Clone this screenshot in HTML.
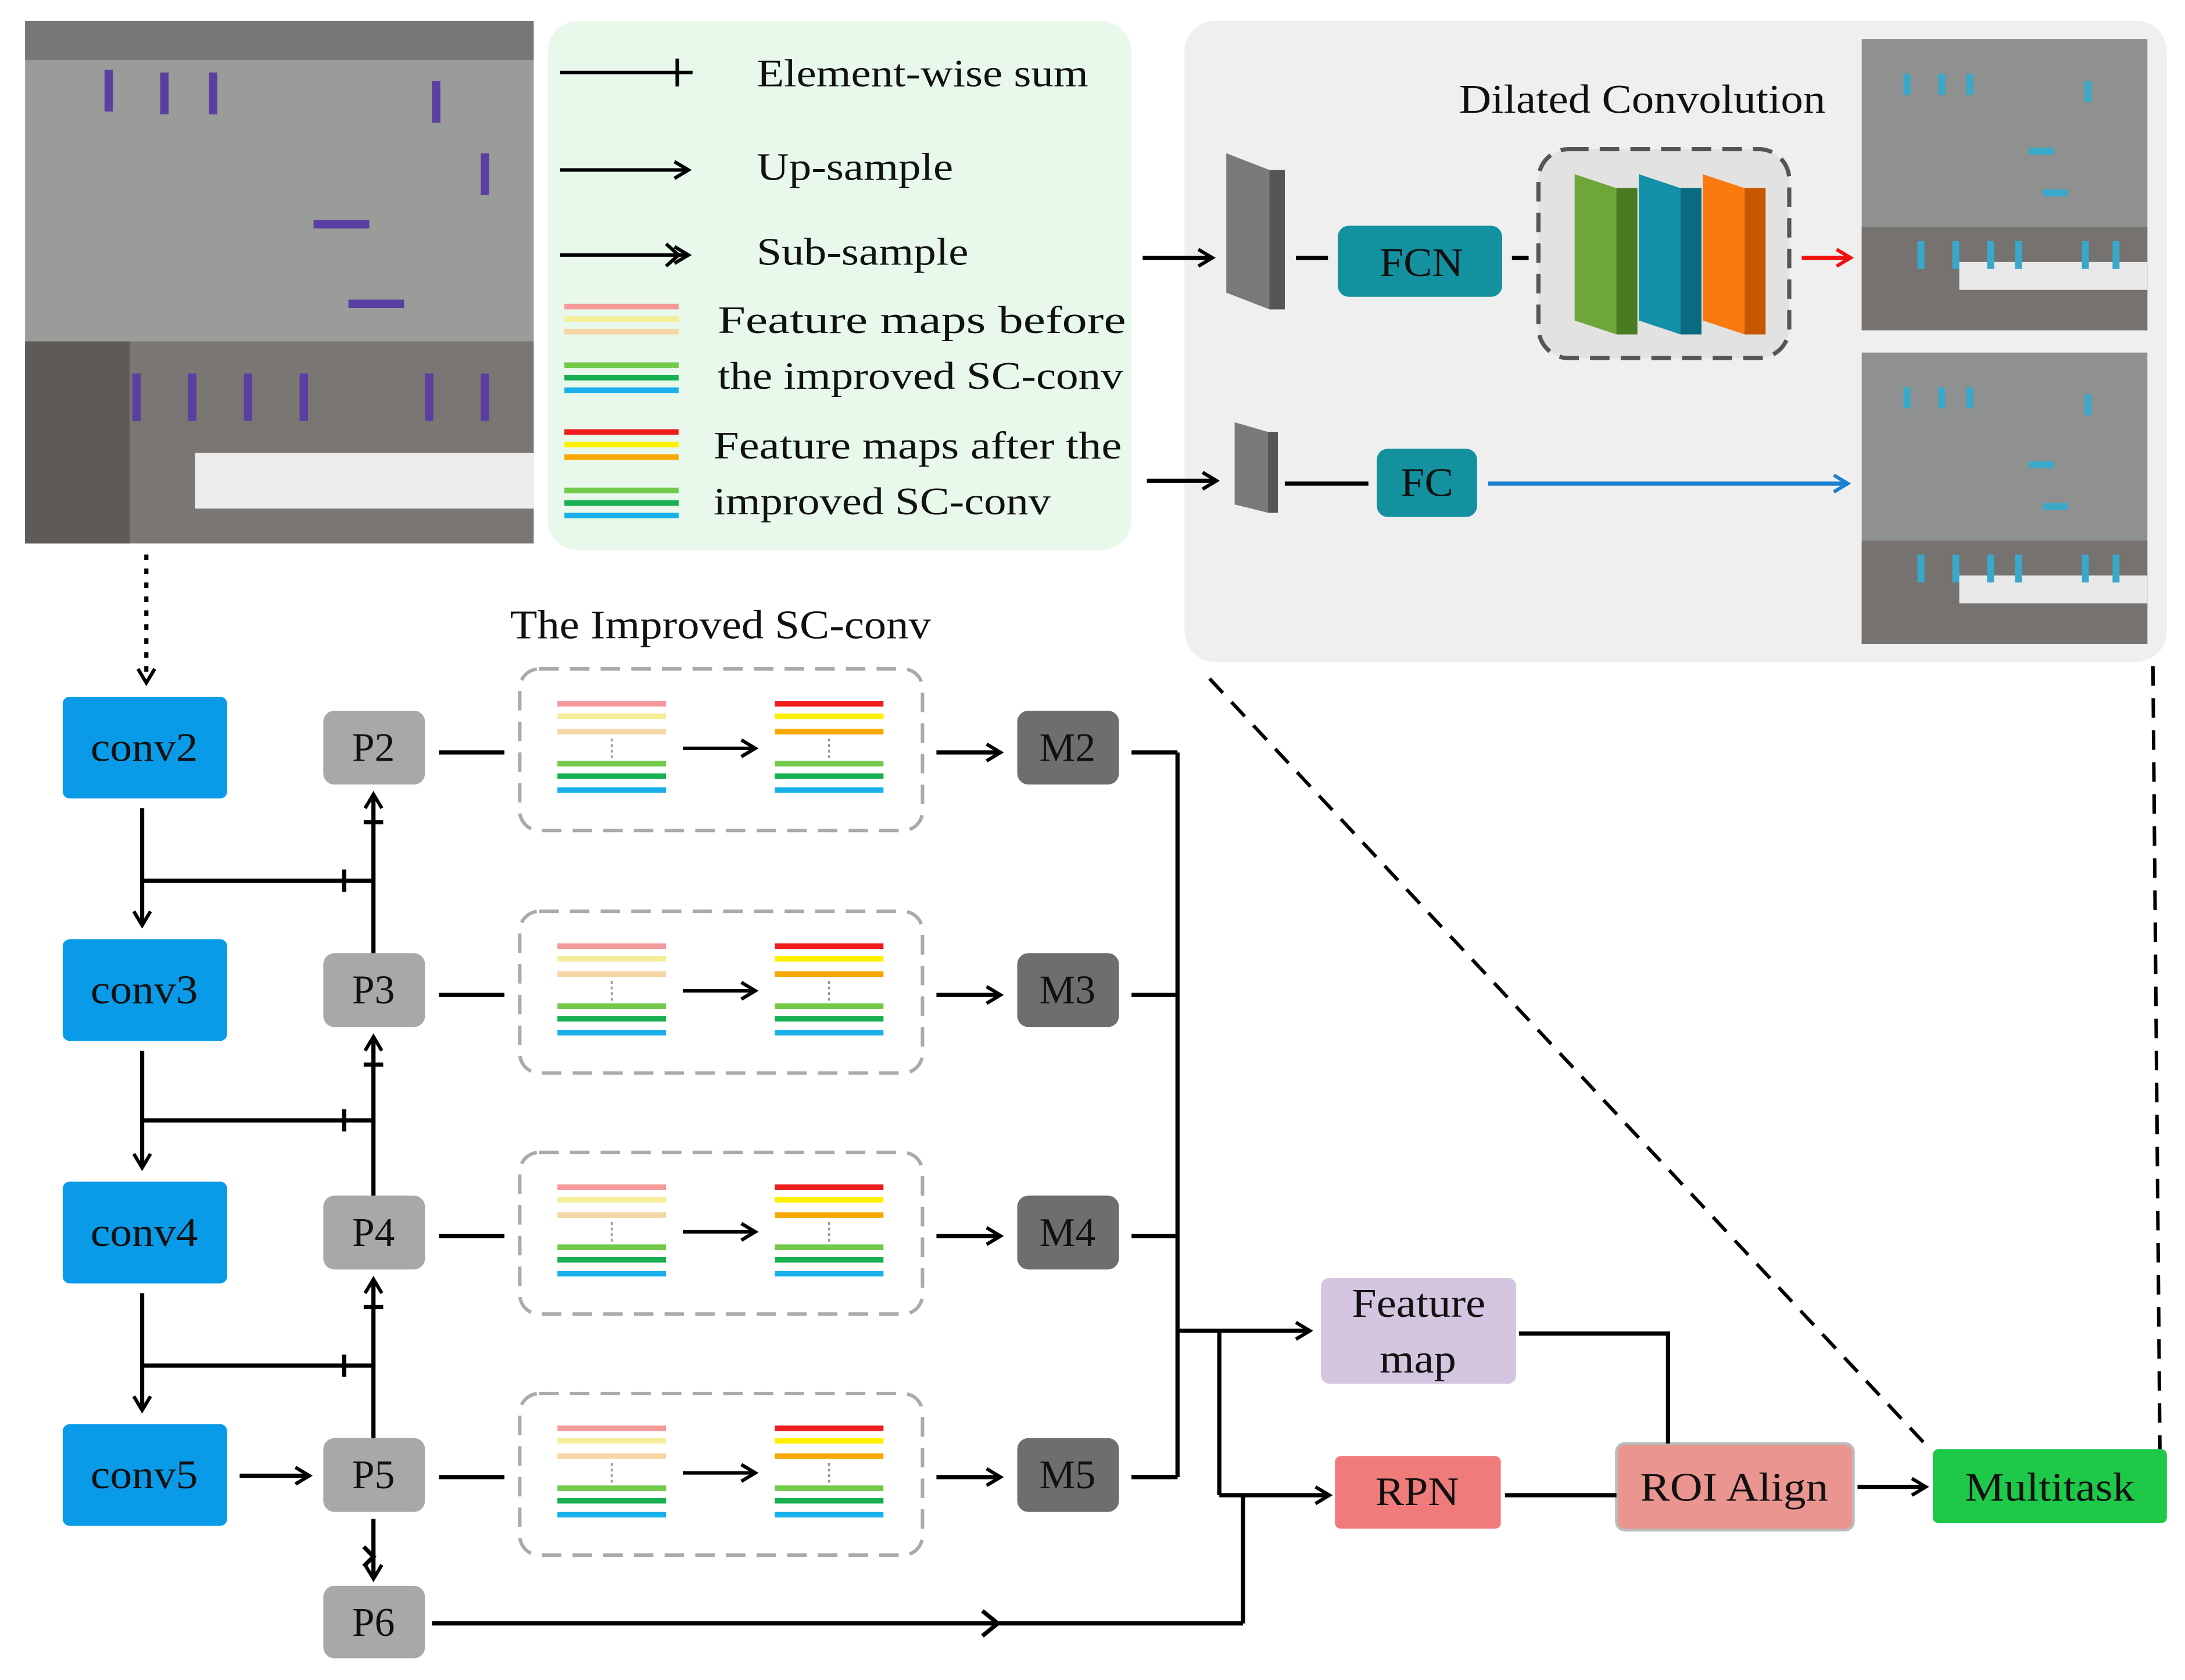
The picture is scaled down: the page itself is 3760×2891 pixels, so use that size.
<!DOCTYPE html>
<html><head><meta charset="utf-8"><style>html,body{margin:0;padding:0;background:#fff}svg{display:block}text{font-family:"Liberation Serif",serif}</style></head><body>
<svg width="3760" height="2891" viewBox="0 0 1568 1205.6" preserveAspectRatio="none" xmlns="http://www.w3.org/2000/svg">
<defs>
<marker id="ah" markerWidth="14" markerHeight="14" refX="11" refY="7" orient="auto" markerUnits="userSpaceOnUse"><path d="M1,1 L11,7 L1,13" fill="none" stroke="#000" stroke-width="2.5"/></marker>
<marker id="ahr" markerWidth="14" markerHeight="14" refX="11" refY="7" orient="auto" markerUnits="userSpaceOnUse"><path d="M1,1 L11,7 L1,13" fill="none" stroke="#f01010" stroke-width="2.5"/></marker>
<marker id="ahb" markerWidth="14" markerHeight="14" refX="11" refY="7" orient="auto" markerUnits="userSpaceOnUse"><path d="M1,1 L11,7 L1,13" fill="none" stroke="#1a7fd0" stroke-width="2.5"/></marker>
<g id="photo">
<rect width="205" height="209" fill="#8e9190"/>
<rect y="135" width="205" height="74" fill="#75726f"/>
<rect x="70" y="160" width="135" height="20" fill="#e8e8e8"/>
<g fill="#3aa8c8"><rect x="30" y="25" width="5" height="15"/><rect x="55" y="25" width="5" height="15"/><rect x="75" y="25" width="5" height="15"/><rect x="160" y="30" width="5" height="15"/><rect x="120" y="78" width="18" height="5"/><rect x="130" y="108" width="18" height="5"/><rect x="40" y="145" width="5" height="20"/><rect x="65" y="145" width="5" height="20"/><rect x="90" y="145" width="5" height="20"/><rect x="110" y="145" width="5" height="20"/><rect x="158" y="145" width="5" height="20"/><rect x="180" y="145" width="5" height="20"/></g>
</g>
</defs>
<!-- top-left photo -->
<rect x="18" y="15" width="365" height="375" fill="#9a9c9a"/>
<rect x="18" y="15" width="365" height="28" fill="#777"/>
<rect x="18" y="245" width="365" height="145" fill="#7a7674"/>
<rect x="18" y="245" width="75" height="145" fill="#5e5a58"/>
<rect x="140" y="325" width="243" height="40" fill="#ececec"/>
<g fill="#5a3fa0"><rect x="75" y="50" width="6" height="30"/><rect x="115" y="52" width="6" height="30"/><rect x="150" y="52" width="6" height="30"/><rect x="310" y="58" width="6" height="30"/><rect x="345" y="110" width="6" height="30"/><rect x="225" y="158" width="40" height="6"/><rect x="250" y="215" width="40" height="6"/><rect x="95" y="268" width="6" height="34"/><rect x="135" y="268" width="6" height="34"/><rect x="175" y="268" width="6" height="34"/><rect x="215" y="268" width="6" height="34"/><rect x="305" y="268" width="6" height="34"/><rect x="345" y="268" width="6" height="34"/></g>
<!-- legend -->
<rect x="393" y="15" width="419" height="380" rx="22" fill="#e8f9ec"/>
<g stroke="#000" stroke-width="2.5" fill="none">
<line x1="402" y1="52" x2="497" y2="52"/><line x1="486" y1="42" x2="486" y2="62"/>
<line x1="402" y1="122" x2="494" y2="122" marker-end="url(#ah)"/>
<line x1="402" y1="183" x2="494" y2="183" marker-end="url(#ah)"/><path d="M478,175 L487,183 L478,191"/>
</g>
<g font-size="28" fill="#111" lengthAdjust="spacingAndGlyphs">
<text x="543" y="62" textLength="238" lengthAdjust="spacingAndGlyphs">Element-wise sum</text>
<text x="543" y="129" textLength="141" lengthAdjust="spacingAndGlyphs">Up-sample</text>
<text x="543" y="190" textLength="152" lengthAdjust="spacingAndGlyphs">Sub-sample</text>
<text x="515" y="239" textLength="293" lengthAdjust="spacingAndGlyphs">Feature maps before</text>
<text x="515" y="279" textLength="291" lengthAdjust="spacingAndGlyphs">the improved SC-conv</text>
<text x="512" y="329" textLength="293" lengthAdjust="spacingAndGlyphs">Feature maps after the</text>
<text x="512" y="369" textLength="242" lengthAdjust="spacingAndGlyphs">improved SC-conv</text>
</g>
<g stroke-width="4">
<line x1="405" y1="220" x2="487" y2="220" stroke="#f59a9a"/><line x1="405" y1="229" x2="487" y2="229" stroke="#f4ee9a"/><line x1="405" y1="238" x2="487" y2="238" stroke="#f5d6a6"/>
<line x1="405" y1="262" x2="487" y2="262" stroke="#72c94a"/><line x1="405" y1="271" x2="487" y2="271" stroke="#18b050"/><line x1="405" y1="280" x2="487" y2="280" stroke="#1ab0ec"/>
<line x1="405" y1="310" x2="487" y2="310" stroke="#ee1c1c"/><line x1="405" y1="319" x2="487" y2="319" stroke="#fff000"/><line x1="405" y1="328" x2="487" y2="328" stroke="#f8a800"/>
<line x1="405" y1="352" x2="487" y2="352" stroke="#72c94a"/><line x1="405" y1="361" x2="487" y2="361" stroke="#18b050"/><line x1="405" y1="370" x2="487" y2="370" stroke="#1ab0ec"/>
</g>
<!-- right panel -->
<rect x="850" y="15" width="705" height="460" rx="22" fill="#efefef"/>
<text x="1047" y="81" font-size="29" fill="#111" textLength="263" lengthAdjust="spacingAndGlyphs">Dilated Convolution</text>
<use href="#photo" x="1336" y="28"/>
<use href="#photo" x="1336" y="253"/>
<g stroke="#000" stroke-width="3" fill="none">
<line x1="820" y1="185" x2="870" y2="185" marker-end="url(#ah)"/>
<line x1="930" y1="185" x2="953" y2="185"/>
<line x1="1085" y1="185" x2="1097" y2="185"/>
<line x1="823" y1="345" x2="873" y2="345" marker-end="url(#ah)"/>
<line x1="922" y1="347" x2="982" y2="347"/>
</g>
<line x1="1293" y1="185" x2="1328" y2="185" stroke="#f01010" stroke-width="3" marker-end="url(#ahr)"/>
<line x1="1068" y1="347" x2="1326" y2="347" stroke="#1a7fd0" stroke-width="3" marker-end="url(#ahb)"/>
<polygon points="880,110 911,122 922,122 922,222 911,222 880,210" fill="#7a7a7a"/><rect x="911" y="122" width="11" height="100" fill="#555"/>
<polygon points="886,303 910,310 917,310 917,368 910,368 886,362" fill="#7a7a7a"/><rect x="910" y="310" width="7" height="58" fill="#555"/>
<rect x="960" y="162" width="118" height="51" rx="8" fill="#13919f"/>
<text x="990" y="198" font-size="29" fill="#111" textLength="60" lengthAdjust="spacingAndGlyphs">FCN</text>
<rect x="988" y="322" width="72" height="49" rx="8" fill="#13919f"/>
<text x="1005" y="356" font-size="29" fill="#111" textLength="38" lengthAdjust="spacingAndGlyphs">FC</text>
<rect x="1104" y="107" width="180" height="150" rx="22" fill="#e2e2e2" stroke="#555" stroke-width="3" stroke-dasharray="14,8"/>
<polygon points="1130,125 1160,135 1175,135 1175,240 1160,240 1130,230" fill="#6fa63a"/><rect x="1160" y="135" width="15" height="105" fill="#4a7a22"/>
<polygon points="1176,125 1206,135 1221,135 1221,240 1206,240 1176,230" fill="#1490a8"/><rect x="1206" y="135" width="15" height="105" fill="#0a6a7e"/>
<polygon points="1222,125 1252,135 1267,135 1267,240 1252,240 1222,230" fill="#fb7a10"/><rect x="1252" y="135" width="15" height="105" fill="#c85800"/>
<!-- dashed diagonals -->
<line x1="868" y1="487" x2="1385" y2="1040" stroke="#000" stroke-width="2.5" stroke-dasharray="14,9"/>
<line x1="1545" y1="478" x2="1550" y2="1040" stroke="#000" stroke-width="2.5" stroke-dasharray="14,9"/>
<text x="366" y="458" font-size="29" fill="#111" textLength="302" lengthAdjust="spacingAndGlyphs">The Improved SC-conv</text>
<!-- dotted arrow -->
<line x1="105" y1="398" x2="105" y2="490" stroke="#000" stroke-width="3" stroke-dasharray="4,6" marker-end="url(#ah)"/>
<!-- rows -->
<g font-size="29" fill="#111">
<rect x="45" y="500" width="118" height="73" rx="5" fill="#0a9be8"/><text x="65" y="546" textLength="77" lengthAdjust="spacingAndGlyphs">conv2</text>
<rect x="45" y="674" width="118" height="73" rx="5" fill="#0a9be8"/><text x="65" y="720" textLength="77" lengthAdjust="spacingAndGlyphs">conv3</text>
<rect x="45" y="848" width="118" height="73" rx="5" fill="#0a9be8"/><text x="65" y="894" textLength="77" lengthAdjust="spacingAndGlyphs">conv4</text>
<rect x="45" y="1022" width="118" height="73" rx="5" fill="#0a9be8"/><text x="65" y="1068" textLength="77" lengthAdjust="spacingAndGlyphs">conv5</text>
<g text-anchor="middle">
<rect x="232" y="510" width="73" height="53" rx="8" fill="#a8a8a8"/><text x="268" y="546">P2</text>
<rect x="232" y="684" width="73" height="53" rx="8" fill="#a8a8a8"/><text x="268" y="720">P3</text>
<rect x="232" y="858" width="73" height="53" rx="8" fill="#a8a8a8"/><text x="268" y="894">P4</text>
<rect x="232" y="1032" width="73" height="53" rx="8" fill="#a8a8a8"/><text x="268" y="1068">P5</text>
<rect x="232" y="1138" width="73" height="52" rx="8" fill="#a8a8a8"/><text x="268" y="1174">P6</text>
<rect x="730" y="510" width="73" height="53" rx="8" fill="#6e6e6e"/><text x="766" y="546">M2</text>
<rect x="730" y="684" width="73" height="53" rx="8" fill="#6e6e6e"/><text x="766" y="720">M3</text>
<rect x="730" y="858" width="73" height="53" rx="8" fill="#6e6e6e"/><text x="766" y="894">M4</text>
<rect x="730" y="1032" width="73" height="53" rx="8" fill="#6e6e6e"/><text x="766" y="1068">M5</text>
</g>
<rect x="948" y="917" width="140" height="76" rx="6" fill="#d4c6e0"/><text x="970" y="945" textLength="96" lengthAdjust="spacingAndGlyphs">Feature</text><text x="990" y="985" textLength="55" lengthAdjust="spacingAndGlyphs">map</text>
<rect x="958" y="1045" width="119" height="52" rx="4" fill="#f07b7b"/><text x="987" y="1080" textLength="60" lengthAdjust="spacingAndGlyphs">RPN</text>
<rect x="1160" y="1036" width="170" height="62" rx="6" fill="#ea9590" stroke="#bbb" stroke-width="2"/><text x="1177" y="1077" textLength="135" lengthAdjust="spacingAndGlyphs">ROI Align</text>
<rect x="1387" y="1040" width="168" height="53" rx="4" fill="#1ec94a"/><text x="1410" y="1077" textLength="122" lengthAdjust="spacingAndGlyphs">Multitask</text>
</g>
<!-- SC-conv boxes -->
<g id="sc">
<rect x="373" y="480" width="289" height="116" rx="14" fill="none" stroke="#aaa" stroke-width="2.5" stroke-dasharray="14,8"/>
<g stroke-width="4">
<line x1="400" y1="505" x2="478" y2="505" stroke="#f59a9a"/><line x1="400" y1="514" x2="478" y2="514" stroke="#f4ee9a"/><line x1="400" y1="525" x2="478" y2="525" stroke="#f5d6a6"/>
<line x1="400" y1="548" x2="478" y2="548" stroke="#72c94a"/><line x1="400" y1="557" x2="478" y2="557" stroke="#18b050"/><line x1="400" y1="567" x2="478" y2="567" stroke="#1ab0ec"/>
<line x1="556" y1="505" x2="634" y2="505" stroke="#ee1c1c"/><line x1="556" y1="514" x2="634" y2="514" stroke="#fff000"/><line x1="556" y1="525" x2="634" y2="525" stroke="#f8a800"/>
<line x1="556" y1="548" x2="634" y2="548" stroke="#72c94a"/><line x1="556" y1="557" x2="634" y2="557" stroke="#18b050"/><line x1="556" y1="567" x2="634" y2="567" stroke="#1ab0ec"/>
</g>
<line x1="439" y1="530" x2="439" y2="544" stroke="#999" stroke-width="1.5" stroke-dasharray="2,2"/>
<line x1="595" y1="530" x2="595" y2="544" stroke="#999" stroke-width="1.5" stroke-dasharray="2,2"/>
<line x1="490" y1="537" x2="542" y2="537" stroke="#000" stroke-width="2.5" marker-end="url(#ah)"/>
<line x1="315" y1="540" x2="362" y2="540" stroke="#000" stroke-width="3"/>
<line x1="672" y1="540" x2="718" y2="540" stroke="#000" stroke-width="3" marker-end="url(#ah)"/>
<line x1="812" y1="540" x2="845" y2="540" stroke="#000" stroke-width="3"/>
</g>
<use href="#sc" y="174"/><use href="#sc" y="347"/><use href="#sc" y="520"/>
<!-- connectors -->
<g stroke="#000" stroke-width="3" fill="none">
<line x1="102" y1="580" x2="102" y2="664" marker-end="url(#ah)"/>
<line x1="102" y1="754" x2="102" y2="838" marker-end="url(#ah)"/>
<line x1="102" y1="928" x2="102" y2="1012" marker-end="url(#ah)"/>
<line x1="102" y1="632" x2="268" y2="632"/><line x1="247" y1="624" x2="247" y2="640"/>
<line x1="102" y1="804" x2="268" y2="804"/><line x1="247" y1="796" x2="247" y2="812"/>
<line x1="102" y1="980" x2="268" y2="980"/><line x1="247" y1="972" x2="247" y2="988"/>
<line x1="268" y1="684" x2="268" y2="570" marker-end="url(#ah)"/><line x1="261" y1="590" x2="275" y2="590"/>
<line x1="268" y1="858" x2="268" y2="744" marker-end="url(#ah)"/><line x1="261" y1="764" x2="275" y2="764"/>
<line x1="268" y1="1032" x2="268" y2="918" marker-end="url(#ah)"/><line x1="261" y1="938" x2="275" y2="938"/>
<line x1="172" y1="1059" x2="222" y2="1059" marker-end="url(#ah)"/>
<line x1="268" y1="1090" x2="268" y2="1133" marker-end="url(#ah)"/><path d="M261,1110 L268,1117 L261,1124"/>
<line x1="845" y1="540" x2="845" y2="1060"/><line x1="812" y1="1060" x2="845" y2="1060"/>
<line x1="845" y1="955" x2="940" y2="955" marker-end="url(#ah)"/>
<line x1="875" y1="955" x2="875" y2="1073"/><line x1="875" y1="1073" x2="954" y2="1073" marker-end="url(#ah)"/>
<line x1="310" y1="1165" x2="892" y2="1165"/><path d="M705,1156 L716,1165 L705,1174"/>
<line x1="892" y1="1165" x2="892" y2="1073"/>
<polyline points="1090,957 1197,957 1197,1036"/>
<line x1="1080" y1="1073" x2="1160" y2="1073"/>
<line x1="1333" y1="1067" x2="1382" y2="1067" marker-end="url(#ah)"/>
</g>
</svg>
</body></html>
